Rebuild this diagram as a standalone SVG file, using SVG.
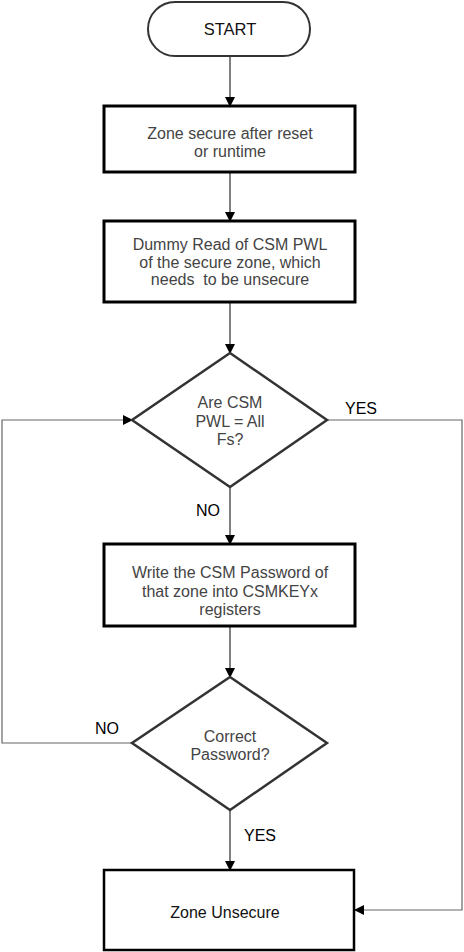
<svg xmlns="http://www.w3.org/2000/svg" width="464" height="952" viewBox="0 0 464 952">
<defs>
<marker id="ah" markerWidth="10" markerHeight="10" refX="9" refY="5" orient="auto" markerUnits="userSpaceOnUse">
<path d="M0,0 L10,5 L0,10 Z" fill="#000"/>
</marker>
<style>
.box{fill:#fff;stroke:#000;stroke-width:3}
.term{fill:#fff;stroke:#333;stroke-width:2}
.dia{fill:#fff;stroke:#333;stroke-width:2.5}
.t{font-family:"Liberation Sans",Arial,sans-serif;font-size:16px;fill:#444;text-anchor:middle}
.lbl{font-family:"Liberation Sans",Arial,sans-serif;font-size:16px;fill:#000;text-anchor:middle}
.c{fill:none;stroke:#000;stroke-width:1}
.cg{fill:none;stroke:#666;stroke-width:1.2}
</style>
</defs>
<g id="connectors">
<line class="c" x1="230" y1="56" x2="230" y2="106" marker-end="url(#ah)"/>
<line class="c" x1="230" y1="172" x2="230" y2="221" marker-end="url(#ah)"/>
<line class="c" x1="230" y1="302" x2="230" y2="353" marker-end="url(#ah)"/>
<line class="c" x1="230" y1="487" x2="230" y2="544" marker-end="url(#ah)"/>
<line class="c" x1="230" y1="626" x2="230" y2="677" marker-end="url(#ah)"/>
<line class="c" x1="230" y1="810" x2="230" y2="870" marker-end="url(#ah)"/>
<polyline class="cg" points="327,420 462,420 462,910 355,910" marker-end="url(#ah)"/>
<polyline class="cg" points="132,743 2,743 2,420 132,420" marker-end="url(#ah)"/>
<text class="lbl" x="361" y="414">YES</text>
<text class="lbl" x="208" y="516">NO</text>
<text class="lbl" x="107" y="734">NO</text>
<text class="lbl" x="260" y="841">YES</text>
</g>
<g id="start">
<rect class="term" x="148" y="2" width="162" height="54" rx="27"/>
<text class="t" x="230" y="35" style="font-size:16.5px;fill:#111">START</text>
</g>
<g id="zone-secure">
<rect class="box" x="104" y="106" width="251" height="66"/>
<text class="t" x="230" y="139">Zone secure after reset</text>
<text class="t" x="230" y="157">or runtime</text>
</g>
<g id="dummy-read">
<rect class="box" x="104" y="221" width="251" height="81"/>
<text class="t" x="230" y="250">Dummy Read of CSM PWL</text>
<text class="t" x="230" y="268">of the secure zone, which</text>
<text class="t" x="230" y="285" xml:space="preserve">needs  to be unsecure</text>
</g>
<g id="check-pwl">
<polygon class="dia" points="230,353 327,420 230,487 132,420"/>
<text class="t" x="230" y="408">Are CSM</text>
<text class="t" x="230" y="427">PWL = All</text>
<text class="t" x="230" y="445">Fs?</text>
</g>
<g id="write-password">
<rect class="box" x="104" y="544" width="251" height="82"/>
<text class="t" x="230" y="578">Write the CSM Password of</text>
<text class="t" x="230" y="597">that zone into CSMKEYx</text>
<text class="t" x="230" y="615">registers</text>
</g>
<g id="correct-password">
<polygon class="dia" points="230,677 327,743 230,810 132,743"/>
<text class="t" x="230" y="742">Correct</text>
<text class="t" x="230" y="760">Password?</text>
</g>
<g id="zone-unsecure">
<rect class="box" x="104" y="870" width="250" height="80" style="stroke-width:2.5"/>
<text class="t" x="225" y="918" style="fill:#111">Zone Unsecure</text>
</g>
</svg>
